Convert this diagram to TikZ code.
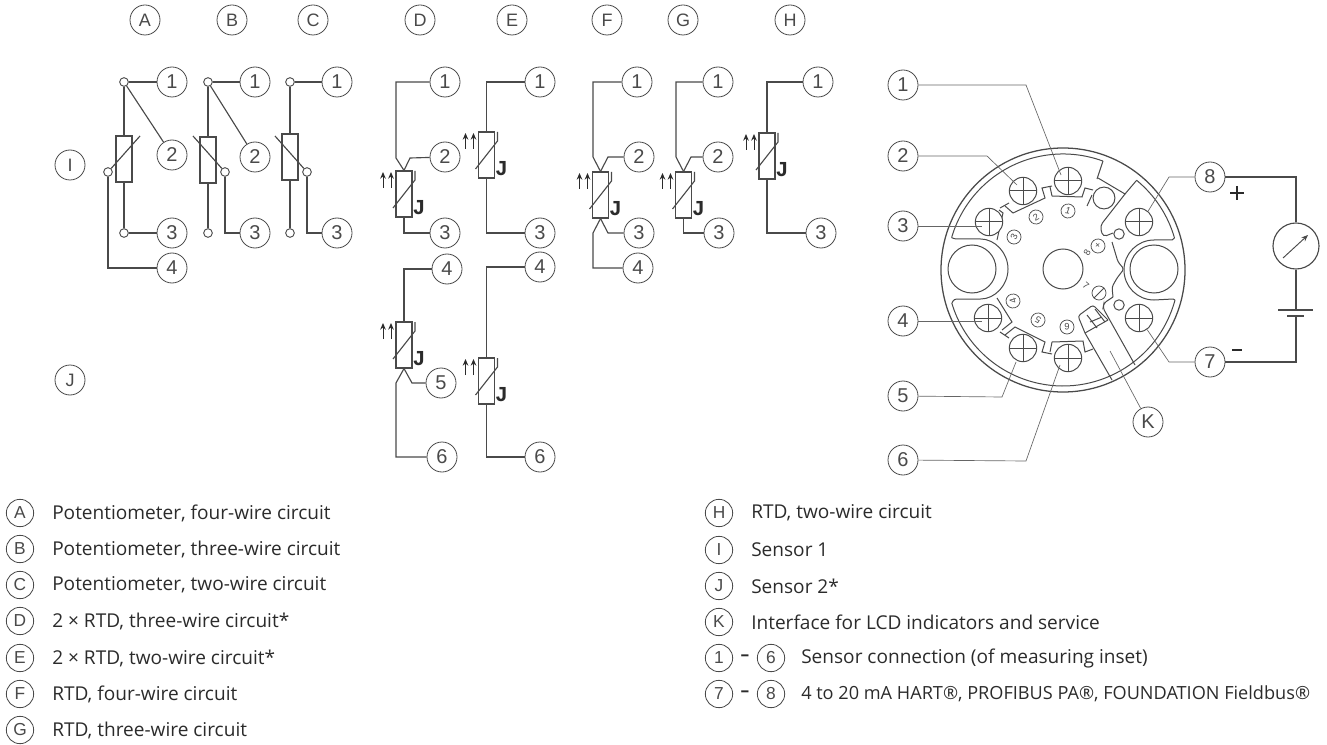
\documentclass[tikz,border=0pt]{standalone}
\usepackage{fontspec}
\setmainfont{Open Sans}
\newfontfamily\lab{Liberation Sans}
\newfontfamily\jfont{Liberation Mono}
\usetikzlibrary{arrows.meta}
\definecolor{ink}{HTML}{4A4A4A}
\definecolor{txt}{HTML}{2B2B2B}
\tikzset{
  lbl/.style={circle,draw=ink,line width=0.6pt,fill=white,minimum size=22.5pt,inner sep=0pt,font=\lab\fontsize{15}{15}\selectfont,text=ink},
  hdr/.style={lbl,font=\lab\fontsize{13.5}{14}\selectfont},
  leg/.style={circle,draw=ink,line width=0.6pt,fill=white,minimum size=20.5pt,inner sep=0pt,font=\lab\fontsize{13}{13}\selectfont,text=ink},
  term/.style={circle,draw=ink,line width=0.7pt,fill=white,minimum size=6.5pt,inner sep=0pt},
  wire/.style={draw=ink,line width=0.85pt},
  res/.style={rectangle,draw=ink,line width=0.85pt,fill=white,minimum width=12pt,minimum height=34.5pt,inner sep=0pt},
  lead/.style={draw=ink!85,line width=0.5pt},
  dev/.style={draw=ink,line width=0.75pt},
  scr/.style={circle,draw=ink,line width=0.75pt,fill=white,minimum size=20.5pt,inner sep=0pt},
  dial/.style={circle,draw=ink,line width=0.55pt,fill=white,minimum size=10.5pt,inner sep=0pt,font=\lab\fontsize{7}{7}\selectfont,text=ink},
  txtn/.style={anchor=west,inner sep=0pt,font=\fontsize{14.3}{16}\selectfont,text=txt},
  arw/.style={draw=txt,line width=0.75pt,-{Stealth[length=5pt,width=4.2pt]}}
}
% name, centre x, top y
\newcommand{\rtdsym}[3]{%
  \node[res] (#1) at (#2,#3+23) {};
  \begin{scope}[shift={(#2,#3)}]
    \draw[arw] (-21,17) -- (-21,1);
    \draw[arw] (-13,17) -- (-13,1);
    \draw[wire] (11,0) -- (11,9) -- (-11,37);
    \node[font=\jfont\bfseries\fontsize{16}{16}\selectfont,text=txt,inner sep=0pt] at (15,37) {J};
  \end{scope}}
\newcommand{\screw}[3]{%
  \node[scr] (#1) at (#2,#3) {};
  \draw[dev] (#1.north) -- (#1.south) (#1.west) -- (#1.east);}
\begin{document}
\begin{tikzpicture}[x=0.75pt,y=-0.75pt]
\useasboundingbox (0,0) rectangle (1327,745);
% header letters
\foreach \n/\t/\x/\y in {hA/A/145/20,hB/B/232/20,hC/C/313/20,hD/D/420/20,hE/E/512/20,hF/F/607/20,hG/G/683/20,hH/H/790/20,hI/I/70/165,hJ/J/70/380}
  \node[hdr] (\n) at (\x,\y) {\t};
% A
\node[res] (aR) at (124,159) {};
\node[term] (at) at (124,82) {};
\node[term] (ab) at (124,233) {};
\node[term] (aw) at (108,172) {};
\node[lbl] (a1) at (172,82) {1};
\node[lbl] (a2) at (172,155) {2};
\node[lbl] (a3) at (172,233) {3};
\node[lbl] (a4) at (172,268) {4};
\coordinate (aw2) at (140,136);
\draw[wire] (at) -- (a1) (at) -- (aR.north) (aR.south) -- (ab) (ab) -- (a3);
\draw[wire] (at) -- (a2);
\draw[wire] (aw) -- (aw2);
\draw[wire] (aw) |- (a4);
% B
\node[res] (bR) at (208,160) {};
\node[term] (bt) at (208,82) {};
\node[term] (bb) at (208,233) {};
\node[term] (bw) at (225,172) {};
\node[lbl] (b1) at (255,82) {1};
\node[lbl] (b2) at (255,157) {2};
\node[lbl] (b3) at (255,233) {3};
\coordinate (bw2) at (193,136);
\draw[wire] (bt) -- (b1) (bt) -- (bR.north) (bR.south) -- (bb);
\draw[wire] (bt) -- (b2);
\draw[wire] (bw) -- (bw2);
\draw[wire] (bw) |- (b3);
% C
\node[res] (cR) at (290,157) {};
\node[term] (ct) at (290,82) {};
\node[term] (cb) at (290,233) {};
\node[term] (cw) at (307,172) {};
\node[lbl] (c1) at (337,82) {1};
\node[lbl] (c3) at (337,233) {3};
\coordinate (cw2) at (275,136);
\draw[wire] (ct) -- (c1) (ct) -- (cR.north) (cR.south) -- (cb);
\draw[wire] (cw) -- (cw2);
\draw[wire] (cw) |- (c3);
% D upper
\rtdsym{dR}{404}{171}
\node[lbl] (d1) at (445,82) {1};
\node[lbl] (d2) at (445,157) {2};
\node[lbl] (d3) at (445,233) {3};
\draw[wire] (d1) -- (396,82) -- (396,158) -- (dR.north);
\draw[wire] (d2) -- (410,158) -- (dR.north);
\draw[wire] (dR.south) |- (d3);
% D lower
\rtdsym{eR}{404}{322}
\node[lbl] (d4) at (447,269) {4};
\node[lbl] (d5) at (441,383) {5};
\node[lbl] (d6) at (442,457) {6};
\draw[wire] (d4) -| (eR.north);
\draw[wire] (eR.south) -- (396,383) -- (396,457) -- (d6);
\draw[wire] (eR.south) -- (412,383) -- (d5);
% E upper
\rtdsym{fR}{486.5}{132}
\node[lbl] (e1) at (540,82) {1};
\node[lbl] (e3) at (540,233) {3};
\draw[wire] (e1) -| (fR.north);
\draw[wire] (fR.south) |- (e3);
% E lower
\rtdsym{gR}{486.5}{358}
\node[lbl] (e4) at (540,267) {4};
\node[lbl] (e6) at (540,457) {6};
\draw[wire] (e4) -| (gR.north);
\draw[wire] (gR.south) |- (e6);
% F
\rtdsym{hR}{600.5}{172}
\node[lbl] (f1) at (637,82) {1};
\node[lbl] (f2) at (639,157) {2};
\node[lbl] (f3) at (639,233) {3};
\node[lbl] (f4) at (638,268) {4};
\draw[wire] (f1) -- (593,82) -- (593,157) -- (hR.north);
\draw[wire] (f2) -- (608,157) -- (hR.north);
\draw[wire] (hR.south) -- (593,233) -- (593,268) -- (f4);
\draw[wire] (hR.south) -- (608,233) -- (f3);
% G
\rtdsym{iR}{683.5}{172}
\node[lbl] (g1) at (718,82) {1};
\node[lbl] (g2) at (718,157) {2};
\node[lbl] (g3) at (719,233) {3};
\draw[wire] (g1) -- (676,82) -- (676,157) -- (iR.north);
\draw[wire] (g2) -- (691,157) -- (iR.north);
\draw[wire] (iR.south) |- (g3);
% H
\rtdsym{jR}{767}{133}
\node[lbl] (h1) at (818,82) {1};
\node[lbl] (h3) at (821,233) {3};
\draw[wire] (h1) -| (jR.north);
\draw[wire] (jR.south) |- (h3);
% device body
\draw[dev,line width=0.95pt] (1063,270) circle (91.5pt);
\draw[dev] (951.6,237.6) arc[start angle=163.8,end angle=69.8,radius=87pt];
\draw[dev] (1136.6,180.3) arc[start angle=50.6,end angle=16,radius=87pt];
\draw[dev] (1175,300) arc[start angle=-15,end angle=-163.4,radius=87pt];
% holes
\draw[dev] (1063,269) circle (15pt);
\draw[dev] (972,269) circle (18pt);
\draw[dev] (1154,269) circle (18pt);
\draw[dev] (1104,198) circle (8.2pt);
% left U + contours
\draw[dev,rounded corners=2pt] (951.6,237.6) -- (954,239) -- (978,239) arc[start angle=90,end angle=-90,radius=22.5pt] -- (954,299) -- (952,303);
\draw[dev] (1174.5,238) -- (1172,240) -- (1154,240) arc[start angle=90,end angle=270,radius=22.5pt] -- (1173,299) -- (1175,300);
\draw[dev] (997,240) -- (1003,213) -- (999,210);
\draw[dev] (1000,208) -- (1009,203);
\draw[dev] (1005,206) -- (1013,213) -- (1045,198) -- (1042,188) -- (1052,186);
\draw[dev] (1050,187) -- (1052,196) -- (1082,197) -- (1085,188) -- (1093,190);
\draw[dev] (997,298) -- (1012,322) -- (1002,330);
\draw[dev] (1000,332) -- (1009,338);
\draw[dev] (1005,335) -- (1015,327) -- (1045,342) -- (1042,352) -- (1052,354);
\draw[dev] (1050,352) -- (1052,342) -- (1083,341) -- (1085,352) -- (1093,349);
% top divider and right inner contour
\draw[dev] (1103,161) -- (1097,179);
\draw[dev] (1092,195) -- (1087,206);
\draw[dev] (1098,178) -- (1125,194) -- (1136.6,180.3);
\draw[dev,rounded corners=3pt] (1125,194) -- (1100,226) -- (1103,237) -- (1113,233);
\draw[dev,rounded corners=2pt] (1112,242) -- (1118,262) -- (1124,269) -- (1117,278) -- (1112,287) -- (1113,297);
\draw[dev] (1119,234) circle (3.9pt);
\draw[dev] (1119,305) circle (3.9pt);
\draw[dev,rounded corners=2pt] (1113,297) -- (1104,303) -- (1103,308) -- (1135,365);
% K module
\draw[dev] (1085,333) -- (1112,380);
\draw[dev] (1085,333) -- (1108,320);
\draw[dev,rounded corners=2pt] (1085,333) -- (1078,316) -- (1093,305) -- (1108,320);
\draw[dev] (1087,315) -- (1097,328) (1095,309) -- (1105,322) (1090,322) -- (1102,317);
% screws
\screw{s1}{1068}{181}
\screw{s2}{1023}{191}
\screw{s3}{989}{222}
\screw{s4}{988}{318}
\screw{s5}{1023}{348}
\screw{s6}{1068}{358}
\screw{s7}{1139}{318}
\screw{s8}{1139}{222}
% dial marks
\node[dial,rotate=-8] (m1) at (1068,211) {\textit{1}};
\node[dial,rotate=30] (m2) at (1036,217) {2};
\node[dial,rotate=65] (m3) at (1014,237) {3};
\node[dial,rotate=105] (m4) at (1013,301) {4};
\node[dial,rotate=150] (m5) at (1038,320) {5};
\node[dial,rotate=180] (m6) at (1067,327) {6};
\node[dial,rotate=40] (m8) at (1098,246) {+};
\node[dial] (m7) at (1099,293) {};
\draw[dev] (m7.225) -- (m7.45);
\node[inner sep=0pt,font=\lab\fontsize{7}{7}\selectfont,text=ink,rotate=60] (t8) at (1087,253) {8};
\node[inner sep=0pt,font=\lab\fontsize{7}{7}\selectfont,text=ink,rotate=-40] (t7) at (1086,286) {7};
% device labels
\node[lbl] (D1) at (903,85) {1};
\node[lbl] (D2) at (903,156) {2};
\node[lbl] (D3) at (903,226) {3};
\node[lbl] (D4) at (903,321) {4};
\node[lbl] (D5) at (903,396) {5};
\node[lbl] (D6) at (903,460) {6};
\node[lbl] (D7) at (1210,362) {7};
\node[lbl] (D8) at (1210,177) {8};
\node[lbl] (DK) at (1148,422) {K};
\coordinate (l1) at (1061,175);
\coordinate (l2) at (1017,185);
\coordinate (l3) at (982,226);
\coordinate (l4) at (982,321);
\coordinate (l5) at (1016,362);
\coordinate (l6) at (1060,365);
\coordinate (lK) at (1110,351);
\draw[lead] (D1) -- (1026,85) -- (l1);
\draw[lead] (D2) -- (987,156) -- (l2);
\draw[lead] (D3) -- (l3);
\draw[lead] (D4) -- (l4);
\draw[lead] (D5) -- (1002,397) -- (l5);
\draw[lead] (D6) -- (1026,461) -- (l6);
\draw[lead] (D8) -- (1169,177) -- (s8.50);
\draw[lead] (D7) -- (1169,362) -- (s7.-55);
\draw[lead] (DK) -- (lK);
% outer circuit
\node[circle,draw=ink,line width=0.85pt,fill=white,minimum size=34.5pt,inner sep=0pt] (M) at (1296,246) {};
\coordinate (bat1) at (1296,310);
\coordinate (bat2) at (1296,316);
\draw[wire] (D8) -| (M.north);
\draw[wire] (M.south) -- (bat1);
\draw[wire] (bat2) |- (D7);
\draw[wire] (1278,310) -- (1313,310);
\draw[wire] (1287,316) -- (1304,316);
\draw[draw=ink,line width=0.7pt,-{Stealth[length=5pt,width=4pt]}] (1283,258) -- (1308,235);
\draw[txt,line width=1.9pt] (1230,193) -- (1244,193) (1237,186) -- (1237,200);
\draw[txt,line width=1.9pt] (1232,350) -- (1242,350);
% legend left
\foreach \n/\t/\y/\s in {A/A/513/{Potentiometer, four-wire circuit},B/B/549/{Potentiometer, three-wire circuit},C/C/585/{Potentiometer, two-wire circuit},D/D/621/{2 × RTD, three-wire circuit*},E/E/658/{2 × RTD, two-wire circuit*},F/F/694/{RTD, four-wire circuit},G/G/730/{RTD, three-wire circuit}}{
  \node[leg] (L\n) at (20,\y) {\t};
  \node[txtn] (T\n) at (52,\y) {\s};
}
% legend right
\foreach \n/\t/\y/\s in {H/H/513/{RTD, two-wire circuit},I/I/550/{Sensor 1},J/J/586/{Sensor 2*},K/K/622/{Interface for LCD indicators and service}}{
  \node[leg] (L\n) at (719,\y) {\t};
  \node[txtn] (T\n) at (751,\y) {\s};
}
\node[leg] (R1) at (719,658) {1};
\node[leg] (R6) at (771,658) {6};
\node[leg] (R7) at (719,694) {7};
\node[leg] (R8) at (771,694) {8};
\node[inner sep=0pt,font=\bfseries\fontsize{13}{14}\selectfont,text=txt] (dA) at (745,658) {–};
\node[inner sep=0pt,font=\bfseries\fontsize{13}{14}\selectfont,text=txt] (dB) at (745,694) {–};
\node[txtn] (T16) at (801,658) {Sensor connection (of measuring inset)};
\node[txtn,font=\fontsize{13.6}{16}\selectfont] (T78) at (801,694) {4 to 20 mA HART®, PROFIBUS PA®, FOUNDATION Fieldbus®};
\end{tikzpicture}
\end{document}
